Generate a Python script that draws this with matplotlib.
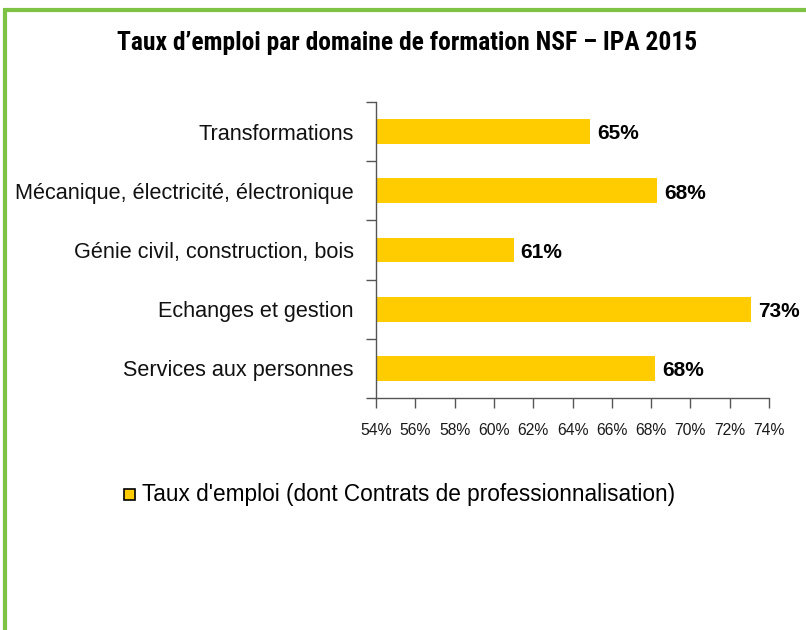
import matplotlib
matplotlib.use("Agg")
import matplotlib.pyplot as plt
from matplotlib.patches import Rectangle
from matplotlib.lines import Line2D

# employment rate by NSF training domain (IPA 2015), top to bottom
categories = [
    "Transformations",
    "Mécanique, électricité, électronique",
    "Génie civil, construction, bois",
    "Echanges et gestion",
    "Services aux personnes",
]
rates = [64.9, 68.3, 61.0, 73.1, 68.2]
xticks = list(range(54, 75, 2))
series_name = "Taux d'emploi (dont Contrats de professionnalisation)"

BAR = "#ffcc00"
GREEN = "#7dc242"
AXIS = "#555555"

plt.rcParams["font.family"] = ["Liberation Sans", "DejaVu Sans"]

fig = plt.figure(figsize=(8.06, 6.30), dpi=100, facecolor="white")

# green frame on top / left
fig.add_artist(Line2D([0.0045, 1.0], [1 - 9.5 / 630] * 2, color=GREEN, lw=3.0,
                      transform=fig.transFigure, solid_capstyle="butt"))
fig.add_artist(Line2D([4.5 / 806] * 2, [0, 1 - 8 / 630], color=GREEN, lw=3.0,
                      transform=fig.transFigure, solid_capstyle="butt"))

ax = fig.add_axes([376 / 806, 1 - 398 / 630, 393 / 806, 296 / 630])
y = list(range(len(categories)))
ax.barh(y, [r - xticks[0] for r in rates], left=xticks[0], height=0.42,
        color=BAR, edgecolor="none")
ax.set_ylim(len(categories) - 0.5, -0.5)
ax.set_xlim(xticks[0], xticks[-1])

for yi, r in zip(y, rates):
    ax.text(r + 0.35, yi + 0.04, f"{r:.0f}%", va="center", ha="left",
            fontsize=15, fontweight="bold", color="black")

ax.set_xticks(xticks)
ax.set_xticklabels([f"{t}%" for t in xticks], fontsize=11.3, color="#1a1a1a")
ax.set_yticks([i - 0.5 for i in range(len(categories) + 1)])
ax.set_yticklabels([])
ax.set_yticks(y, minor=True)
ax.set_yticklabels(categories, minor=True, fontsize=15.6, color="#111111")
ax.tick_params(axis="y", which="minor", length=0, pad=16)
ax.tick_params(axis="y", which="major", length=7, color=AXIS, width=1.0)
ax.tick_params(axis="x", length=7, color=AXIS, width=1.0, pad=11)
for s in ("top", "right"):
    ax.spines[s].set_visible(False)
for s in ("left", "bottom"):
    ax.spines[s].set_color(AXIS)
    ax.spines[s].set_linewidth(1.0)

fig.text(407 / 806, 1 - 43 / 630, "Taux d’emploi par domaine de formation NSF – IPA 2015",
         ha="center", va="center", fontsize=18.4, fontweight="bold",
         family=["Roboto Condensed", "Liberation Sans", "DejaVu Sans"])

# legend
fig.add_artist(Rectangle((124 / 806, 1 - 500 / 630), 11 / 806, 11 / 630,
                         facecolor=BAR, edgecolor="black", lw=1.2,
                         transform=fig.transFigure))
fig.text(142 / 806, 1 - 495 / 630, series_name, ha="left", va="center",
         fontsize=16.3, color="black")

fig.savefig("out.png", dpi=100, facecolor="white")
